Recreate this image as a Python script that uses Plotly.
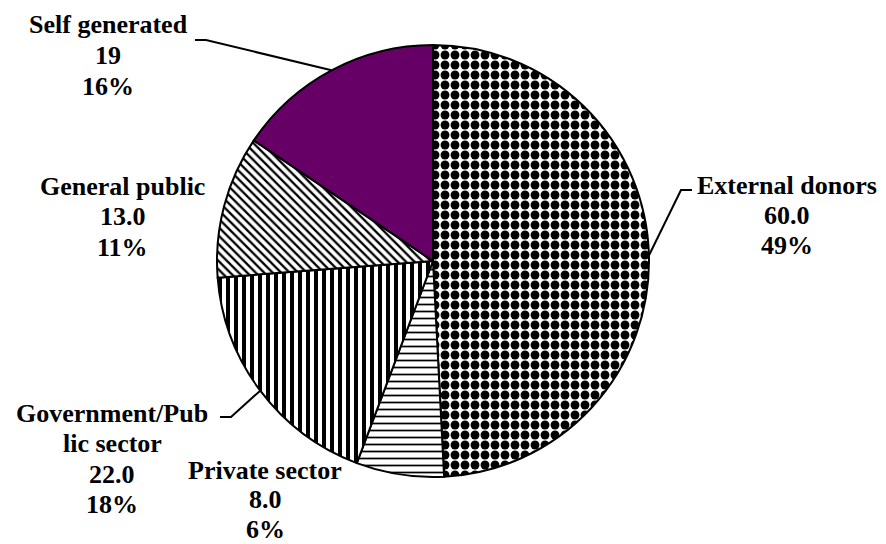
import math
import plotly.graph_objects as go

# Funding sources (clockwise from 12 o'clock)
sources = ["External donors", "Private sector", "Government/Public sector",
           "General public", "Self generated"]
amounts = [60.0, 8.0, 22.0, 13.0, 19]
amount_decimals = [1, 1, 1, 1, 0]
percent_labels = ["49%", "6%", "18%", "11%", "16%"]
# How each category name is wrapped on the chart
name_lines = [["External donors"], ["Private sector"], ["Government/Pub", "lic sector"],
              ["General public"], ["Self generated"]]

W, H = 886, 544
CX, CY, R = 433, 261, 216          # pie centre and radius in pixels

def px(x):
    return x / W

def py(y):
    return 1 - y / H

fill_colors = ["white", "white", "white", "white", "#660066"]
pattern_shapes = [".", "-", "|", "\\", ""]
pattern_sizes = [10, 7, 8, 6, 8]
pattern_solidity = [0.62, 0.25, 0.5, 0.38, 0.3]

fig = go.Figure(go.Pie(
    labels=sources,
    values=amounts,
    sort=False,
    direction="clockwise",
    rotation=0,
    textinfo="none",
    hoverinfo="label+value+percent",
    showlegend=False,
    domain=dict(x=[px(CX - R), px(CX + R)], y=[py(CY + R), py(CY - R)]),
    marker=dict(
        colors=fill_colors,
        line=dict(color="black", width=2),
        pattern=dict(shape=pattern_shapes, fgcolor="black", bgcolor=fill_colors,
                     size=pattern_sizes, solidity=pattern_solidity, fillmode="replace"),
    ),
))

# Label blocks: centre x and y of the first line (pixels), line pitch
label_pos = [(787, 185), (265, 470), (112, 413), (123, 186), (108, 25)]
LINE_PITCH = 30.5

annotations = []
for i, src in enumerate(sources):
    val = f"{amounts[i]:.{amount_decimals[i]}f}"
    lines = name_lines[i] + [val, percent_labels[i]]
    lx, ly = label_pos[i]
    pitch = 29.5 if i == 1 else LINE_PITCH
    for k, line in enumerate(lines):
        annotations.append(dict(
            x=px(lx), y=py(ly + k * pitch), xref="paper", yref="paper",
            text=line, showarrow=False, xanchor="center", yanchor="middle",
            font=dict(family="Liberation Serif", size=26, color="black", weight="bold"),
        ))

# Leader lines: elbow from label to the rim at the slice's mid-angle
total = sum(amounts)
mid_angles = []
cum = 0
for v in amounts:
    mid_angles.append((cum + v / 2) / total * 2 * math.pi)
    cum += v

leaders = {0: [(692, 190), (681, 190)], 2: [(220, 417), (231, 417)], 4: [(195, 40), (206, 40)]}
shapes = []
for i, pts in leaders.items():
    a = mid_angles[i]
    ex, ey = CX + R * math.sin(a), CY - R * math.cos(a)
    seq = pts + [(ex, ey)]
    path = "M " + " L ".join(f"{px(x):.5f},{py(y):.5f}" for x, y in seq)
    shapes.append(dict(type="path", path=path, xref="paper", yref="paper",
                       line=dict(color="black", width=2)))

fig.update_layout(
    width=W, height=H,
    margin=dict(l=0, r=0, t=0, b=0),
    paper_bgcolor="white", plot_bgcolor="white",
    annotations=annotations, shapes=shapes,
)

fig.write_html("out.html")
